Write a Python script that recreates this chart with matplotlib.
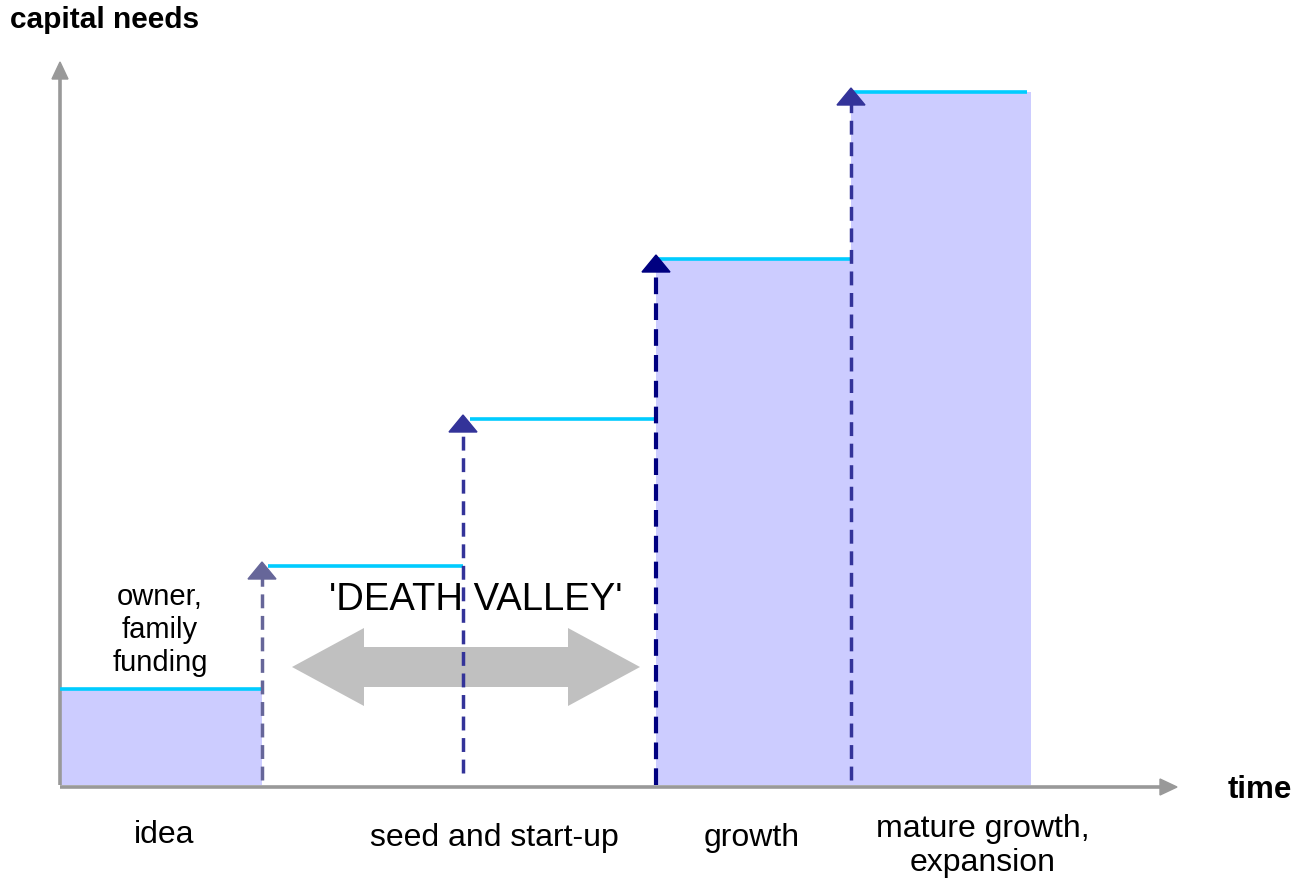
import matplotlib
matplotlib.use("Agg")
import matplotlib.pyplot as plt
import matplotlib.patches as mpatches

plt.rcParams["font.family"] = ["Liberation Sans", "DejaVu Sans"]

# -----------------------------------------------------------------------------
# data (diagram units: origin = axes corner, 1 unit ~ 1 px)
# -----------------------------------------------------------------------------
stage_names = ["idea", "seed and start-up", "growth", "mature growth,\nexpansion"]
stage_label_x = [104, 434, 692, 923]
stage_label_y = [-50, -53, -53, -61]

# funding steps: x where the dashed arrow rises, level it reaches
step_x = [202, 403, 596, 791]
step_level = [219, 366, 526, 693]
step_bottom = [5, 12, 0, 5]
step_colors = ["#666699", "#333399", "#000080", "#333399"]
step_lw = [2.5, 2.5, 3.0, 2.5]

# cyan capital-need levels (start, end, level)
level_start = [0, 208, 410, 596, 791]
level_end = [202, 403, 596, 791, 967]
level_value = [96, 219, 366, 526, 693]

# shaded blocks (start, end, height)
fill_start = [0, 596, 791]
fill_end = [202, 791, 971]
fill_height = [96, 526, 693]

y_axis_top = 723
x_axis_end = 1117
valley_left, valley_right, valley_y = 232, 580, 118

fig = plt.figure(figsize=(13.09, 8.84), dpi=100)
ax = fig.add_axes([0, 0, 1, 1])
ax.set_xlim(-60, 1249)
ax.set_ylim(-99, 785)
ax.axis("off")

# shaded blocks
for x0, x1, h in zip(fill_start, fill_end, fill_height):
    ax.add_patch(mpatches.Rectangle((x0, 0), x1 - x0, h, facecolor="#CCCCFF",
                                    edgecolor="none", zorder=1))

# axes with arrows
ax.plot([0, 0], [0, y_axis_top - 15], color="#999999", lw=2.6, zorder=2,
        solid_capstyle="butt")
ax.add_patch(mpatches.Polygon([(-8, y_axis_top - 17), (8, y_axis_top - 17), (0, y_axis_top)],
                              closed=True, color="#999999", zorder=2))
ax.plot([0, x_axis_end - 15], [-2, -2], color="#999999", lw=2.6, zorder=2,
        solid_capstyle="butt")
ax.add_patch(mpatches.Polygon([(x_axis_end - 17, 6), (x_axis_end - 17, -10), (x_axis_end, -2)],
                              closed=True, color="#999999", zorder=2))

# cyan levels
for x0, x1, lv in zip(level_start, level_end, level_value):
    ax.plot([x0, x1], [lv, lv], color="#00CCFF", lw=2.6, zorder=3,
            solid_capstyle="butt")

# dashed step arrows
for x, lv, b, c, lw in zip(step_x, step_level, step_bottom, step_colors, step_lw):
    ax.plot([x, x], [b, lv - 12], color=c, lw=lw, linestyle=(0, (4.0, 2.2)),
            zorder=4)
    ax.add_patch(mpatches.Polygon([(x - 14, lv - 13), (x + 14, lv - 13), (x, lv + 4)],
                                  closed=True, color=c, zorder=5))

# death valley double arrow
mid = (valley_left + valley_right) / 2
for end in (valley_left, valley_right):
    ax.add_patch(mpatches.FancyArrow(mid, valley_y, end - mid, 0, width=40,
                                     head_width=78, head_length=72,
                                     length_includes_head=True,
                                     color="#C0C0C0", lw=0, zorder=2))
ax.text(416, 185, "'DEATH VALLEY'", fontsize=27.5, ha="center", va="center", zorder=6)

ax.text(100, 155, "owner,\nfamily\nfunding", fontsize=21, ha="center", va="center",
        linespacing=1.22, zorder=6)

for name, x, y in zip(stage_names, stage_label_x, stage_label_y):
    ax.text(x, y, name, fontsize=23, ha="center", va="center", linespacing=1.18)

ax.text(-50, 765, "capital needs", fontsize=21.5, fontweight="bold", ha="left", va="center")
ax.text(1168, -5, "time", fontsize=22.5, fontweight="bold", ha="left", va="center")

fig.savefig("out.png", dpi=100)
